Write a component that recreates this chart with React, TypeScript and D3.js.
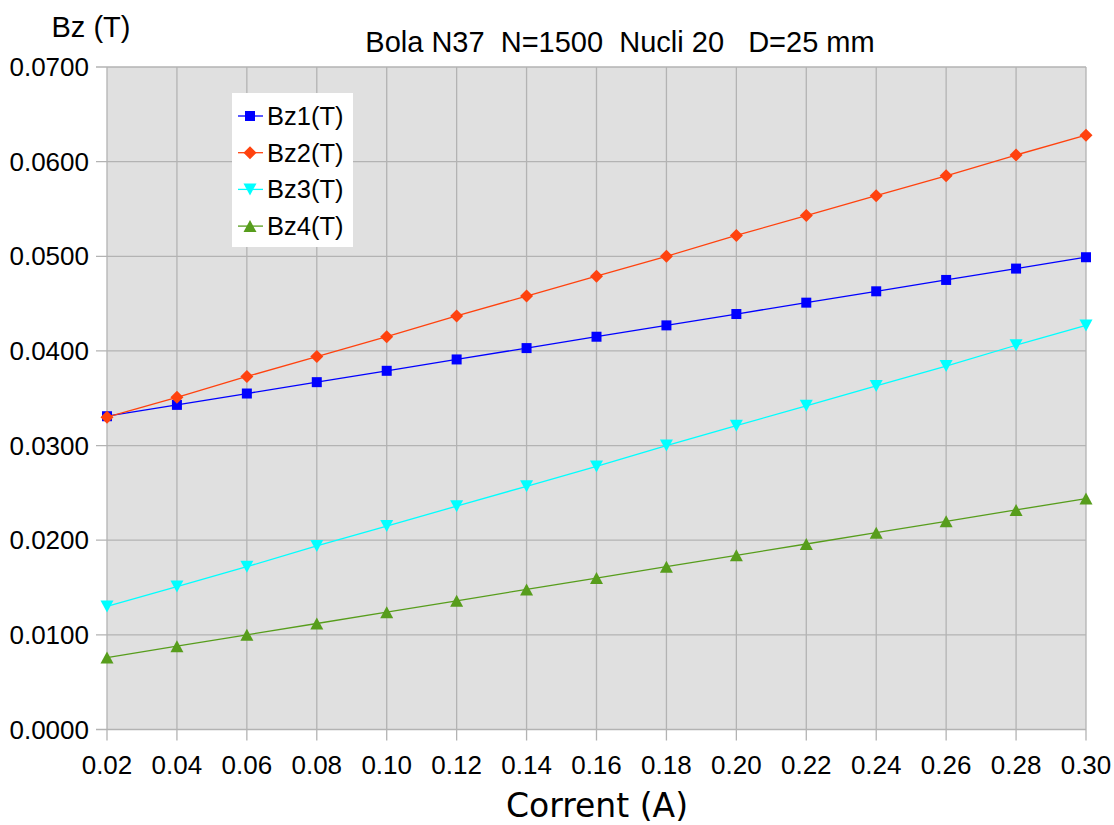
import React from "react";
import * as d3 from "d3";

// Current values (A) along the x axis
const currents = [0.02, 0.04, 0.06, 0.08, 0.1, 0.12, 0.14, 0.16, 0.18, 0.2, 0.22, 0.24, 0.26, 0.28, 0.3];

// Measured axial field (T) for each probe position
const bz1 = [0.0331, 0.0343, 0.0355, 0.0367, 0.0379, 0.0391, 0.0403, 0.0415, 0.0427, 0.0439, 0.0451, 0.0463, 0.0475, 0.0487, 0.0499];
const bz2 = [0.0330, 0.0351, 0.0373, 0.0394, 0.0415, 0.0437, 0.0458, 0.0479, 0.0500, 0.0522, 0.0543, 0.0564, 0.0585, 0.0607, 0.0628];
const bz3 = [0.0130, 0.0151, 0.0172, 0.0194, 0.0215, 0.0236, 0.0257, 0.0278, 0.0300, 0.0321, 0.0342, 0.0363, 0.0384, 0.0406, 0.0427];
const bz4 = [0.0076, 0.0088, 0.0100, 0.0112, 0.0124, 0.0136, 0.0148, 0.0160, 0.0172, 0.0184, 0.0196, 0.0208, 0.0220, 0.0232, 0.0244];

const seriesNames = ["Bz1(T)", "Bz2(T)", "Bz3(T)", "Bz4(T)"];
const yTicks = [0, 0.01, 0.02, 0.03, 0.04, 0.05, 0.06, 0.07];

const seriesStyle = [
  { color: "#0000ff", symbol: "square" },
  { color: "#ff420e", symbol: "diamond" },
  { color: "#00ffff", symbol: "down" },
  { color: "#579d1c", symbol: "up" },
];

const W = 1114;
const H = 825;
const plot = { left: 107, right: 1086, top: 67, bottom: 729.5 };

const font = "'Liberation Sans', Arial, sans-serif";

function Marker({ x, y, kind, color }: { x: number; y: number; kind: string; color: string }) {
  if (kind === "square") {
    return <rect x={x - 5} y={y - 5} width={10} height={10} fill={color} />;
  }
  if (kind === "diamond") {
    return <path d={`M${x},${y - 6.5}L${x + 6.5},${y}L${x},${y + 6.5}L${x - 6.5},${y}Z`} fill={color} />;
  }
  if (kind === "down") {
    return <path d={`M${x - 6.5},${y - 6}L${x + 6.5},${y - 6}L${x},${y + 6}Z`} fill={color} />;
  }
  return <path d={`M${x - 6.5},${y + 6}L${x + 6.5},${y + 6}L${x},${y - 6}Z`} fill={color} />;
}

export default function App() {
  const x = d3.scaleLinear().domain([0.02, 0.3]).range([plot.left, plot.right]);
  const y = d3.scaleLinear().domain([0, 0.07]).range([plot.bottom, plot.top]);
  const all = [bz1, bz2, bz3, bz4];
  const line = d3
    .line<number>()
    .x((_, i) => x(currents[i]))
    .y((d) => y(d));

  return (
    <svg width={W} height={H} style={{ position: "absolute", left: 0, top: 0, background: "#fff" }}>
      <rect x={plot.left} y={plot.top} width={plot.right - plot.left} height={plot.bottom - plot.top} fill="#e0e0e0" />
      {/* grid */}
      {currents.map((c) => (
        <line key={"gx" + c} x1={x(c)} x2={x(c)} y1={plot.top} y2={plot.bottom + 11} stroke="#b3b3b3" strokeWidth={1.3} />
      ))}
      {yTicks.map((t) => (
        <line key={"gy" + t} x1={plot.left - 11} x2={plot.right} y1={y(t)} y2={y(t)} stroke="#b3b3b3" strokeWidth={1.3} />
      ))}
      {/* series */}
      {all.map((s, k) => (
        <g key={k}>
          <path d={line(s) || ""} fill="none" stroke={seriesStyle[k].color} strokeWidth={1.3} />
          {s.map((v, i) => (
            <Marker key={i} x={x(currents[i])} y={y(v)} kind={seriesStyle[k].symbol} color={seriesStyle[k].color} />
          ))}
        </g>
      ))}
      {/* y tick labels */}
      {yTicks.map((t) => (
        <text key={"ty" + t} x={89} y={y(t) + 9} textAnchor="end" fontFamily={font} fontSize={26} fill="#000">
          {t.toFixed(4)}
        </text>
      ))}
      {/* x tick labels */}
      {currents.map((c) => (
        <text key={"tx" + c} x={x(c)} y={774} textAnchor="middle" fontFamily={font} fontSize={26} fill="#000">
          {c.toFixed(2)}
        </text>
      ))}
      {/* titles */}
      <text x={620} y={52} textAnchor="middle" fontFamily={font} fontSize={29} fill="#000" style={{ whiteSpace: "pre" }}>
        {"Bola N37  N=1500  Nucli 20   D=25 mm"}
      </text>
      <text x={91} y={37} textAnchor="middle" fontFamily={font} fontSize={29} fill="#000">
        Bz (T)
      </text>
      <text x={597} y={817} textAnchor="middle" fontFamily="'DejaVu Sans', sans-serif" fontSize={33} fill="#000">
        Corrent (A)
      </text>
      {/* legend */}
      <rect x={232} y={93} width={121} height={154} fill="#fff" />
      {seriesNames.map((n, k) => {
        const cy = 116 + k * 36.7;
        return (
          <g key={n}>
            <line x1={238} x2={263} y1={cy} y2={cy} stroke={seriesStyle[k].color} strokeWidth={1.3} />
            <Marker x={250} y={cy} kind={seriesStyle[k].symbol} color={seriesStyle[k].color} />
            <text x={267} y={cy + 9} fontFamily={font} fontSize={25.5} fill="#000">
              {n}
            </text>
          </g>
        );
      })}
    </svg>
  );
}
